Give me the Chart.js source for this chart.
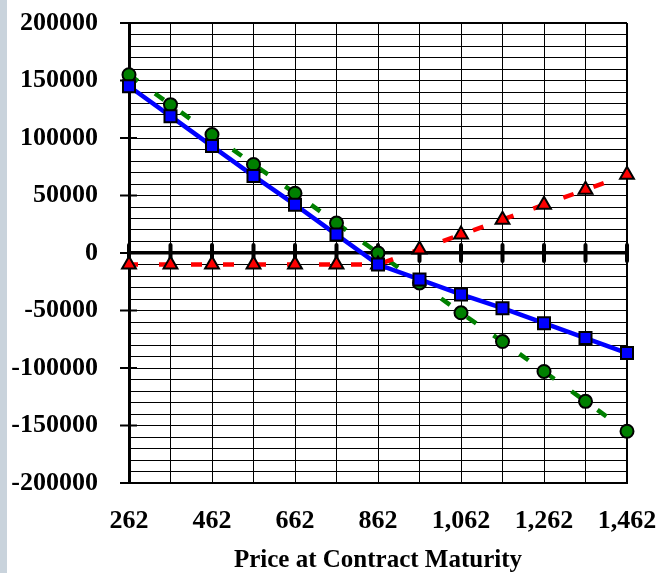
<!DOCTYPE html>
<html><head><meta charset="utf-8">
<script src="https://cdn.jsdelivr.net/npm/chart.js@4/dist/chart.umd.min.js"></script>
<style>
html,body{margin:0;padding:0;background:#fff;}
#wrap{position:relative;width:657px;height:573px;overflow:hidden;}
#strip{position:absolute;left:0;top:0;width:7px;height:573px;background:#c9d3dc;}
canvas{position:absolute;left:0;top:0;}
</style></head><body>
<div id="wrap"><div id="strip"></div><canvas id="c" width="657" height="573"></canvas></div>
<script>
const categories = [262,362,462,562,662,762,862,962,1062,1162,1262,1362,1462];
const xTickLabels = ['262','362','462','562','662','762','862','962','1,062','1,162','1,262','1,362','1,462'];
const yMajorTicks = [200000,150000,100000,50000,0,-50000,-100000,-150000,-200000];
const greenSeries = [155000,129000,103000,77000,52000,26000,0,-26000,-52000,-77000,-103000,-129000,-155000];
const blueSeries  = [145000,119000,93000,67000,42000,16000,-10000,-23000,-36000,-48000,-61000,-74000,-87000];
const redSeries   = [-10000,-10000,-10000,-10000,-10000,-10000,-10000,3000,16000,29000,42000,55000,68000];
const xTitle = 'Price at Contract Maturity';

const FONT = {family:'"Liberation Serif", "Times New Roman", serif', weight:'bold', size:26};
const TITLE_FONT = {family:'"Liberation Serif", "Times New Roman", serif', weight:'bold', size:25, lineHeight:1};

function zeroPad(s){ s.paddingTop=0; s.paddingBottom=0; s.paddingLeft=0; s.paddingRight=0; }

const axisMarks = {
  id:'axisMarks',
  beforeDatasetsDraw(chart){
    const {ctx, scales:{x,y}} = chart;
    ctx.save();
    ctx.strokeStyle='#000';
    ctx.lineWidth=2;
    yMajorTicks.forEach(v=>{
      const py=y.getPixelForValue(v);
      ctx.beginPath(); ctx.moveTo(x.left-9,py); ctx.lineTo(x.left+8,py); ctx.stroke();
    });
    const y0=y.getPixelForValue(0);
    ctx.lineWidth=4; ctx.lineCap='round';
    categories.forEach((c,i)=>{
      const px=x.getPixelForValue(i);
      ctx.beginPath(); ctx.moveTo(px,y0-8); ctx.lineTo(px,y0+8); ctx.stroke();
    });
    ctx.restore();
  }
};

new Chart(document.getElementById('c'), {
  type:'line',
  data:{
    labels: categories.map(String),
    datasets:[
      {data:blueSeries, borderColor:'#0000ff', borderWidth:4.5, pointStyle:'rect', pointRadius:8.5,
       pointBackgroundColor:'#0000ff', pointBorderColor:'#000', pointBorderWidth:2, tension:0, order:1},
      {data:redSeries, borderColor:'#ff0000', borderWidth:4.5, borderDash:[11,21], borderDashOffset:2, pointStyle:'triangle', pointRadius:8,
       pointBackgroundColor:'#ff0000', pointBorderColor:'#000', pointBorderWidth:2, tension:0, order:2},
      {data:greenSeries, borderColor:'#008000', borderWidth:4.5, borderDash:[11,21], pointStyle:'circle', pointRadius:6.5,
       pointBackgroundColor:'#008000', pointBorderColor:'#000', pointBorderWidth:2, tension:0, order:3}
    ]
  },
  options:{
    responsive:false, animation:false,
    layout:{padding:{top:23,right:30,bottom:0,left:0}},
    plugins:{legend:{display:false}, tooltip:{enabled:false}},
    scales:{
      x:{
        type:'category', offset:false,
        grid:{color:'#000', lineWidth:c=>c.index===categories.length-1?2:1, drawTicks:false, offset:false},
        border:{display:true, color:'#000', width:2},
        ticks:{autoSkip:false, maxRotation:0, minRotation:0, padding:23, color:'#000', font:FONT,
          callback:(v,i)=> i%2===0 ? xTickLabels[i] : ''},
        title:{display:true, text:xTitle, color:'#000', font:TITLE_FONT, padding:{top:0,bottom:0}},
        afterFit:s=>{s.height=90; zeroPad(s);}
      },
      y:{
        min:-200000, max:200000,
        grid:{color:'#000', lineWidth:c=>{const v=c.tick.value; return v===0?3.5:(Math.abs(v)===200000?2:1);}, drawTicks:false},
        border:{display:true, color:'#000', width:3},
        ticks:{stepSize:10000, autoSkip:false, padding:31, color:'#000', font:FONT,
          callback:v=> yMajorTicks.includes(v) ? String(v) : ''},
        afterFit:s=>{s.width=129; zeroPad(s);}
      }
    }
  },
  plugins:[axisMarks]
});
</script></body></html>
